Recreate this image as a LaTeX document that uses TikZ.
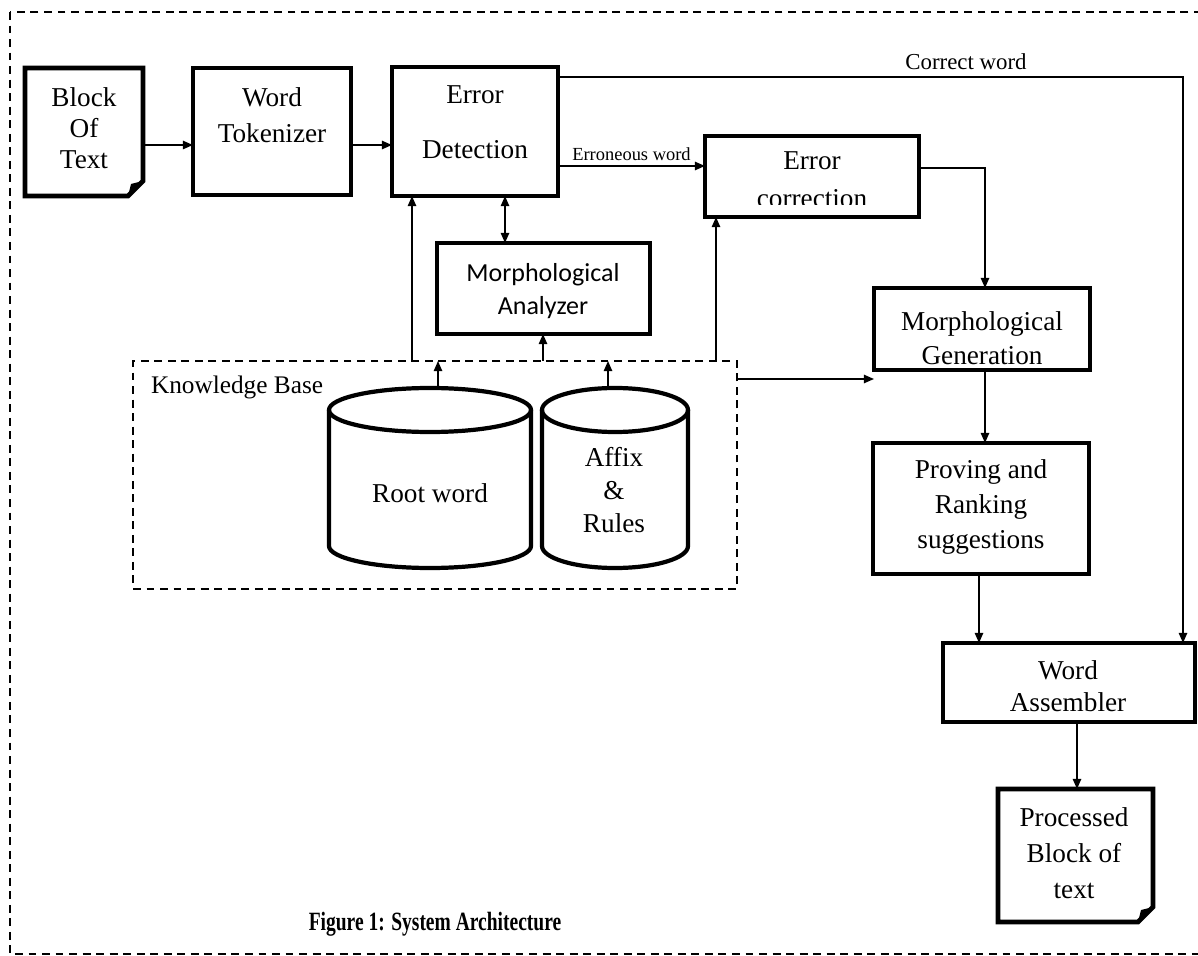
\documentclass[tikz,border=0pt]{standalone}
\usepackage{graphicx}
\usepackage{fontspec}
\setmainfont{Liberation Serif}
\newfontfamily\calib{Carlito}
\usetikzlibrary{arrows.meta,fit,calc}
\begin{document}
\begin{tikzpicture}[x=0.02cm,y=-0.02cm,
  every node/.style={inner sep=0pt, outer sep=0pt},
  box/.style={draw, line width=2.8pt, inner sep=0pt},
  midbox/.style={draw, line width=2.3pt, inner sep=0pt},
  frame/.style={inner sep=0pt},
  txt/.style={align=center},
  arr/.style={line width=0.9pt, -{Triangle[length=5.8pt,width=4.8pt]}},
  dblarr/.style={line width=0.9pt, {Triangle[length=5.8pt,width=4.8pt]}-{Triangle[length=5.8pt,width=4.8pt]}},
  dashline/.style={line width=1.1pt, dash pattern=on 4.5pt off 3.2pt},
  thick line/.style={line width=2.8pt, line join=miter},
  cyl line/.style={line width=2.4pt},
]
\useasboundingbox (0,0) rectangle (1198,956);
\draw[dashline] (10,12) rectangle (1240,954);

% level and column helpers
\coordinate (L77) at (0,77);
\coordinate (L145) at (0,145);
\coordinate (L166) at (0,166);
\coordinate (L168) at (0,168);
\coordinate (L379) at (0,379);
\coordinate (X412) at (412,0);
\coordinate (X438) at (438,0);
\coordinate (X505) at (505,0);
\coordinate (X543) at (543,0);
\coordinate (X608) at (608,0);
\coordinate (X716) at (716,0);
\coordinate (X979) at (979,0);
\coordinate (X985) at (985,0);
\coordinate (X1077) at (1077,0);
\coordinate (X1183) at (1183,0);

% Block of text (document shape)
\node[frame, fit={(25,68)(143,196)}] (bot) {};
\draw[thick line] (bot.north west) -- (bot.north east) -- ($(bot.south east)+(0,-15)$) -- ($(bot.south east)+(-15,0)$) -- (bot.south west) -- cycle;
\fill ($(bot.south east)+(0,-15)$) -- ($(bot.south east)+(-15,0)$) -- ($(bot.south east)+(-12,-12)$) -- cycle;
\node[txt, font=\fontsize{15.5}{17.5}\selectfont] (bott) at (84,128) {Block\\Of\\Text};

% Word tokenizer
\node[box, fit={(193,68)(351,195)}] (wt) {};
\node[txt, font=\fontsize{15.5}{20.4}\selectfont] (wtt) at (272,115) {Word\\Tokenizer};

% Error detection
\node[box, fit={(392,67)(558,196)}] (ed) {};
\node[txt, font=\fontsize{15.5}{31}\selectfont] (edt) at (475,122) {Error\\Detection};

% Error correction (second line cut off at the bottom, as printed)
\node[box, fit={(705,136)(919,217)}] (ec) {};
\begin{scope}
\clip (705,136) rectangle (919,205);
\node[txt, font=\fontsize{15.5}{21.5}\selectfont] (ect) at (812,180) {Error\\correction};
\end{scope}

% Morphological analyzer
\node[midbox, fit={(437,243)(650,334)}] (ma) {};
\node[txt, font=\calib\fontsize{14.8}{18.7}\selectfont] (mat) at (543,291) {Morphological\\Analyzer};

% Morphological generation
\node[box, fit={(874,288)(1090,370)}] (mg) {};
\node[txt, font=\fontsize{15.5}{19.3}\selectfont] (mgt) at (982,338) {Morphological\\Generation};

% Proving and ranking
\node[box, fit={(873,443)(1089,574)}] (pr) {};
\node[txt, font=\fontsize{15.5}{19.8}\selectfont] (prt) at (981,507) {Proving and\\Ranking\\suggestions};

% Word assembler
\node[box, fit={(943,643)(1195,722)}] (wa) {};
\node[txt, font=\fontsize{15.5}{18.2}\selectfont] (wat) at (1068,686) {Word\\Assembler};

% Processed block of text (document shape)
\node[frame, fit={(998,789)(1153,922)}] (pb) {};
\draw[thick line] (pb.north west) -- (pb.north east) -- ($(pb.south east)+(0,-15)$) -- ($(pb.south east)+(-15,0)$) -- (pb.south west) -- cycle;
\fill ($(pb.south east)+(0,-15)$) -- ($(pb.south east)+(-15,0)$) -- ($(pb.south east)+(-12,-12)$) -- cycle;
\node[txt, font=\fontsize{15.5}{20.4}\selectfont] (pbt) at (1074,853) {Processed\\Block of\\text};

% Knowledge base
\node[frame, draw, dashline, fit={(133,361)(737,589)}] (kb) {};
\node[anchor=west, font=\fontsize{14.4}{17}\selectfont] (kbt) at (151,387) {Knowledge Base};

% Root word cylinder
\node[frame, fit={(329,388)(531,568)}] (root) {};
\draw[cyl line, fill=white] (329,410) -- (329,546) arc[start angle=180, end angle=0, x radius=101, y radius=22] -- (531,410);
\draw[cyl line] (430,410) ellipse[x radius=101, y radius=22];
\node[txt, font=\fontsize{15.5}{18}\selectfont] (roott) at (430,493) {Root word};

% Affix cylinder
\node[frame, fit={(542,388)(688,568)}] (affix) {};
\draw[cyl line, fill=white] (542,410) -- (542,546) arc[start angle=180, end angle=0, x radius=73, y radius=22] -- (688,410);
\draw[cyl line] (615,410) ellipse[x radius=73, y radius=22];
\node[txt, font=\fontsize{15.5}{19}\selectfont] (affixt) at (614,490) {Affix\\\&\\Rules};

% Connectors
\draw[arr] (bot.east |- L145) -- (wt.west |- L145);
\draw[arr] (wt.east |- L145) -- (ed.west |- L145);
\draw[arr] (ed.east |- L166) -- (ec.west |- L166) node[pos=0.5, above=3pt, font=\fontsize{10.5}{12}\selectfont] (erw) {Erroneous word};
\draw[arr] (ed.east |- L77) -| (wa.north -| X1183);
\node[font=\fontsize{13}{15}\selectfont] (cw) at (966,62) {Correct word};
\draw[arr] (ec.east |- L168) -| (mg.north -| X985);
\draw[dblarr] (ed.south -| X505) -- (ma.north -| X505);
\draw[arr] (kb.north -| X412) -- (ed.south -| X412);
\draw[arr] (kb.north -| X543) -- (ma.south -| X543);
\draw[arr] (kb.north -| X716) -- (ec.south -| X716);
\draw[arr] (root.north -| X438) -- (kb.north -| X438);
\draw[arr] (affix.north -| X608) -- (kb.north -| X608);
\draw[arr] (kb.east |- L379) -- (mg.west |- L379);
\draw[arr] (mg.south -| X985) -- (pr.north -| X985);
\draw[arr] (pr.south -| X979) -- (wa.north -| X979);
\draw[arr] (wa.south -| X1077) -- (pb.north -| X1077);

% Caption
\node[font=\bfseries\fontsize{15}{18}\selectfont] (cap) at (435,924) {\scalebox{0.74}[1]{Figure 1: System Architecture}};
\end{tikzpicture}
\end{document}
